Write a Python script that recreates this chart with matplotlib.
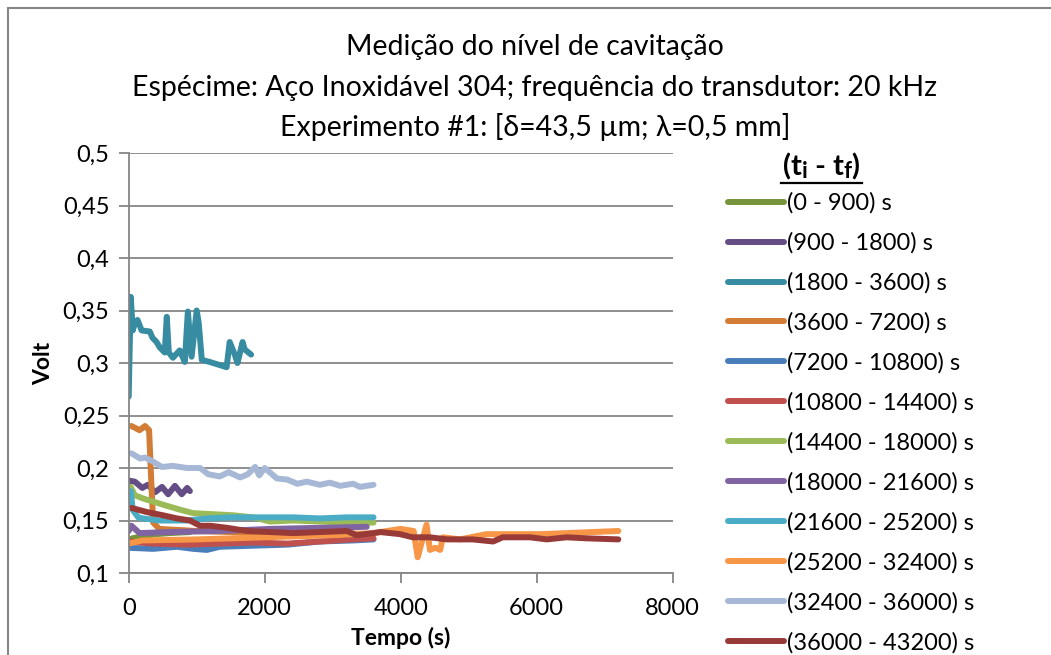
import matplotlib
matplotlib.use("Agg")
import matplotlib.pyplot as plt
from matplotlib.lines import Line2D
from matplotlib.patches import Rectangle

plt.rcParams['font.family'] = ['Lato', 'DejaVu Sans']

# dados (tempo em s, tensão em V)
t_0_900 = [0, 50, 200, 400, 600, 900]
v_0_900 = [0.126, 0.133, 0.135, 0.137, 0.138, 0.139]

t_900_1800 = [0, 90, 200, 280, 390, 490, 580, 680, 780, 860, 900]
v_900_1800 = [0.188, 0.187, 0.181, 0.184, 0.177, 0.182, 0.175, 0.183, 0.175, 0.181, 0.178]

t_1800_3600 = [0, 30, 60, 90, 130, 190, 310, 350, 410, 455, 530, 560, 590, 650, 750, 825,
               870, 925, 1000, 1030, 1075, 1190, 1340, 1440, 1485, 1560, 1600, 1675, 1705, 1800]
v_1800_3600 = [0.268, 0.363, 0.331, 0.338, 0.341, 0.331, 0.330, 0.324, 0.320, 0.315, 0.310, 0.344,
               0.310, 0.305, 0.312, 0.301, 0.349, 0.306, 0.350, 0.338, 0.303, 0.301, 0.298, 0.296,
               0.320, 0.308, 0.300, 0.320, 0.313, 0.308]

t_3600_7200 = [40, 160, 240, 300, 330, 360, 450, 1000, 2000, 3000, 3600]
v_3600_7200 = [0.240, 0.236, 0.240, 0.236, 0.190, 0.148, 0.142, 0.140, 0.138, 0.138, 0.137]

t_7200_10800 = [0, 360, 710, 950, 1150, 1340, 1830, 2330, 2810, 3300, 3600]
v_7200_10800 = [0.124, 0.123, 0.125, 0.123, 0.122, 0.125, 0.126, 0.127, 0.130, 0.131, 0.132]

t_10800_14400 = [0, 360, 850, 1340, 1830, 2330, 2810, 3300, 3600]
v_10800_14400 = [0.130, 0.128, 0.127, 0.128, 0.129, 0.128, 0.130, 0.132, 0.133]

t_14400_18000 = [30, 90, 210, 360, 560, 770, 950, 1240, 1530, 1830, 2080, 2420, 2810, 3210, 3600]
v_14400_18000 = [0.182, 0.174, 0.171, 0.168, 0.164, 0.160, 0.157, 0.156, 0.155, 0.153, 0.149,
                 0.150, 0.149, 0.148, 0.148]

t_18000_21600 = [0, 40, 160, 600, 1340, 2080, 2810, 3500]
v_18000_21600 = [0.140, 0.145, 0.138, 0.139, 0.140, 0.142, 0.143, 0.144]

t_21600_25200 = [30, 60, 140, 210, 460, 860, 1150, 1490, 1830, 2110, 2420, 2810, 3210, 3600]
v_21600_25200 = [0.178, 0.160, 0.153, 0.152, 0.150, 0.150, 0.152, 0.153, 0.153, 0.153, 0.153,
                 0.152, 0.153, 0.153]

t_25200_32400 = [0, 200, 1000, 2000, 3000, 3600, 4000, 4190, 4250, 4380, 4430, 4510, 4580,
                 4620, 4870, 5260, 5650, 6050, 6450, 6820, 7200]
v_25200_32400 = [0.128, 0.131, 0.132, 0.134, 0.136, 0.138, 0.142, 0.140, 0.115, 0.146, 0.122,
                 0.124, 0.122, 0.134, 0.132, 0.137, 0.137, 0.137, 0.138, 0.139, 0.140]

t_32400_36000 = [40, 170, 240, 360, 490, 650, 860, 1050, 1170, 1340, 1470, 1640, 1750, 1860,
                 1920, 2000, 2180, 2330, 2480, 2620, 2810, 2960, 3110, 3300, 3400, 3600]
v_32400_36000 = [0.214, 0.209, 0.210, 0.206, 0.201, 0.202, 0.200, 0.200, 0.194, 0.192, 0.196,
                 0.191, 0.194, 0.201, 0.193, 0.200, 0.190, 0.189, 0.185, 0.187, 0.184, 0.186,
                 0.183, 0.185, 0.182, 0.184]

t_36000_43200 = [40, 270, 500, 710, 900, 1050, 1200, 1450, 1740, 2080, 2420, 2810, 3210, 3350,
                 3600, 3700, 3990, 4180, 4430, 4680, 5060, 5360, 5500, 5900, 6150, 6440, 6740, 7200]
v_36000_43200 = [0.162, 0.158, 0.155, 0.152, 0.150, 0.145, 0.145, 0.143, 0.140, 0.139, 0.138,
                 0.139, 0.140, 0.136, 0.138, 0.139, 0.137, 0.134, 0.134, 0.132, 0.132, 0.130,
                 0.134, 0.134, 0.132, 0.134, 0.133, 0.132]

series = [
    ("(0 - 900) s", t_0_900, v_0_900, "#77933C"),
    ("(900 - 1800) s", t_900_1800, v_900_1800, "#634D84"),
    ("(1800 - 3600) s", t_1800_3600, v_1800_3600, "#378CA2"),
    ("(3600 - 7200) s", t_3600_7200, v_3600_7200, "#D27C36"),
    ("(7200 - 10800) s", t_7200_10800, v_7200_10800, "#4A7EBB"),
    ("(10800 - 14400) s", t_10800_14400, v_10800_14400, "#C0504D"),
    ("(14400 - 18000) s", t_14400_18000, v_14400_18000, "#9BBB59"),
    ("(18000 - 21600) s", t_18000_21600, v_18000_21600, "#8064A2"),
    ("(21600 - 25200) s", t_21600_25200, v_21600_25200, "#4BACC6"),
    ("(25200 - 32400) s", t_25200_32400, v_25200_32400, "#F79646"),
    ("(32400 - 36000) s", t_32400_36000, v_32400_36000, "#A6B8D6"),
    ("(36000 - 43200) s", t_36000_43200, v_36000_43200, "#983A37"),
]

x_ticks = [0, 2000, 4000, 6000, 8000]
y_ticks = [0.1, 0.15, 0.2, 0.25, 0.3, 0.35, 0.4, 0.45, 0.5]
y_tick_labels = ["0,1", "0,15", "0,2", "0,25", "0,3", "0,35", "0,4", "0,45", "0,5"]

W, H = 1051, 655
fig = plt.figure(figsize=(W / 100, H / 100), dpi=100)
ax = fig.add_axes([128.7 / W, 1 - 573 / H, (672.7 - 128.7) / W, (573 - 153) / H])

grid_col = "#868686"
for name, t, v, c in series:
    ax.plot(t, v, color=c, lw=4.3, solid_capstyle="round", solid_joinstyle="round", label=name)

ax.set_xlim(0, 8000)
ax.set_ylim(0.1, 0.5)
ax.set_xticks(x_ticks)
ax.set_xticklabels([str(x) for x in x_ticks])
ax.set_yticks(y_ticks)
ax.set_yticklabels(y_tick_labels)
ax.yaxis.grid(True, color=grid_col, lw=1.3)
ax.set_axisbelow(True)
for s in ["top", "right"]:
    ax.spines[s].set_visible(False)
for s in ["left", "bottom"]:
    ax.spines[s].set_color(grid_col)
    ax.spines[s].set_linewidth(1.3)
ax.tick_params(axis="both", colors=grid_col, width=1.3, length=7, labelsize=17,
               labelcolor="black", pad=7)
ax.tick_params(axis="x", pad=11)
ax.set_xlabel("Tempo (s)", fontsize=16.5, fontweight="bold", labelpad=6)
ax.set_ylabel("Volt", fontsize=16.5, fontweight="bold", labelpad=6)

leg = ax.legend(loc="upper left", bbox_to_anchor=(719 / W, 1 - 183 / H),
                bbox_transform=fig.transFigure, frameon=False, fontsize=17,
                handlelength=2.35, handletextpad=0.13, labelspacing=0.78, borderaxespad=0)
for ln in leg.get_lines():
    ln.set_linewidth(4.3)

# título da legenda: (ti - tf) em negrito, com índices e sublinhado
renderer = fig.canvas.get_renderer()
x0 = 783
y0 = 1 - 175 / H
pieces = [("(t", 21, 0), ("i", 16, -3), (" - t", 21, 0), ("f", 16, -3), (")", 21, 0)]
for txt, size, dy in pieces:
    tx = fig.text(x0 / W, y0 + dy / H, txt, fontsize=size, fontweight="bold", ha="left",
                  va="baseline")
    x0 += tx.get_window_extent(renderer).width
fig.add_artist(Line2D([781 / W, (x0 + 2) / W], [1 - 183 / H, 1 - 183 / H], color="black", lw=1.6))

fig.text(535 / W, 1 - 47 / H, "Medição do nível de cavitação", fontsize=20.5, ha="center", va="center")
fig.text(535 / W, 1 - 88 / H, "Espécime: Aço Inoxidável 304; frequência do transdutor: 20 kHz",
         fontsize=20.5, ha="center", va="center")
fig.text(535 / W, 1 - 127 / H, "Experimento #1: [δ=43,5 µm; λ=0,5 mm]", fontsize=20.5,
         ha="center", va="center")

fig.add_artist(Rectangle((8 / W, -0.2), 1.2, 1.2 - 8 / H, transform=fig.transFigure,
                         fill=False, edgecolor=grid_col, lw=1.5))

fig.savefig("out.png", dpi=100)
